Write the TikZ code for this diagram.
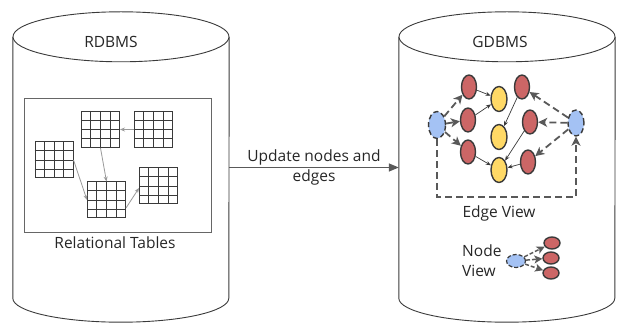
\documentclass[tikz,border=0pt]{standalone}
\usepackage{fontspec}
\setmainfont{Open Sans}
\usetikzlibrary{shapes.geometric,arrows.meta,calc}
\definecolor{edgegray}{HTML}{595959}
\definecolor{linegray}{HTML}{3A3A3A}
\definecolor{redfill}{HTML}{CC6666}
\definecolor{yellowfill}{HTML}{FFD966}
\definecolor{bluefill}{HTML}{A4C2F4}
\tikzset{
  cyl/.style={draw=linegray, line width=0.9pt},
  body/.style={inner sep=0pt, minimum width=216pt, minimum height=261pt},
  label/.style={font=\fontsize{15.5}{20}\selectfont, text=black!85, align=center, inner sep=1pt},
  tbl/.style={draw=linegray, line width=1pt, inner sep=0pt, minimum width=38pt, minimum height=36pt},
  tblarrow/.style={draw=black!40, line width=0.8pt, -{Stealth[length=5pt,width=4pt]}},
  gnode/.style={ellipse, draw=linegray, line width=1.4pt, inner sep=0pt},
  rednode/.style={gnode, fill=redfill, minimum width=15pt, minimum height=24pt},
  yellownode/.style={gnode, fill=yellowfill, minimum width=16pt, minimum height=25pt},
  bluenode/.style={gnode, fill=bluefill, dashed, dash pattern=on 5pt off 3pt, minimum width=17pt, minimum height=27pt},
  solidedge/.style={draw=linegray, line width=0.7pt, -{Stealth[length=5pt,width=4pt]}},
  dashededge/.style={draw=edgegray, line width=1.8pt, dash pattern=on 7pt off 4pt, -{Stealth[length=9pt,width=9pt,inset=2.5pt]}},
  smalldashed/.style={dashededge, line width=1.5pt, dash pattern=on 4pt off 2pt, -{Stealth[length=8pt,width=8pt,inset=2pt]}},
  mainarrow/.style={draw=edgegray, line width=1.4pt, -{Triangle[length=10pt,width=8pt]}}
}
\begin{document}
\begin{tikzpicture}[x=1pt,y=-1pt]
\useasboundingbox (0,0) rectangle (621,328);

% ---- RDBMS cylinder ----
\node[body] (rdb) at (121,167.5) {};
\draw[cyl] (rdb.north west) -- (rdb.south west)
  arc[start angle=180, end angle=360, x radius=108pt, y radius=24pt] -- (rdb.north east);
\draw[cyl, fill=white] (rdb.north) ellipse[x radius=108pt, y radius=25pt];
\node[label] (rdbtitle) at (111,42) {RDBMS};

% relational tables frame
\node[draw=black!60, line width=0.8pt, inner sep=0pt, minimum width=187pt, minimum height=134pt] (frame) at (117.5,165) {};
\node[label] (rtlabel) at (115,243) {Relational Tables};

\node[tbl] (t1) at (100.5,129.5) {};
\node[tbl] (t2) at (153.5,129.5) {};
\node[tbl] (t3) at (54,160) {};
\node[tbl] (t4) at (106.5,200) {};
\node[tbl] (t5) at (158.5,186) {};
\foreach \t in {t1,t2,t3,t4,t5}{
  \foreach \i in {1,2,3}{
    \draw[draw=linegray, line width=0.7pt]
      ($(\t.north west)!\i/4!(\t.north east)$) -- ($(\t.south west)!\i/4!(\t.south east)$);
    \draw[draw=linegray, line width=0.7pt]
      ($(\t.north west)!\i/4!(\t.south west)$) -- ($(\t.north east)!\i/4!(\t.south east)$);
  }
}
\draw[tblarrow] (t2.west) -- (t1.east);
\draw[tblarrow] (t1.south) -- (t4.north);
\draw[tblarrow] (t3.east) -- (t4.west);
\draw[tblarrow] ([yshift=-8pt]t4.east) -- ([yshift=-2pt]t5.west);

% ---- GDBMS cylinder ----
\node[body] (gdb) at (507,167.5) {};
\draw[cyl] (gdb.north west) -- (gdb.south west)
  arc[start angle=180, end angle=360, x radius=108pt, y radius=24pt] -- (gdb.north east);
\draw[cyl, fill=white] (gdb.north) ellipse[x radius=108pt, y radius=25pt];
\node[label] (gdbtitle) at (500,42) {GDBMS};

% ---- update arrow ----
\draw[mainarrow] (rdb.east) -- (gdb.west)
  node[midway, label] (upd) {Update nodes and\\edges};

% ---- edge view graph ----
\node[bluenode] (bl) at (437,125) {};
\node[bluenode, minimum width=16pt, minimum height=26pt] (br) at (576,123) {};
\node[rednode] (r1) at (469,87) {};
\node[rednode] (r2) at (468,120) {};
\node[rednode] (r3) at (468,152) {};
\node[yellownode] (y1) at (499,99) {};
\node[yellownode] (y2) at (499,137) {};
\node[yellownode] (y3) at (499,170) {};
\node[rednode] (r4) at (522,87) {};
\node[rednode] (r5) at (530,122) {};
\node[rednode] (r6) at (528,162) {};

\draw[solidedge] (r1) -- (y1);
\draw[solidedge] (r2) -- (y1);
\draw[solidedge] (r3) -- (y3);
\draw[solidedge] (r4) -- (y2);
\draw[solidedge] (r5) -- (y3);
\draw[solidedge] (r6) -- (y3);

\draw[dashededge] (bl) -- (r1);
\draw[dashededge] (bl) -- (r2);
\draw[dashededge] (bl) -- (r3);
\draw[dashededge] (br) -- (r4);
\draw[dashededge] (br) -- (r5);
\draw[dashededge] (br) -- (r6);

\coordinate (loopl) at (437,197);
\coordinate (loopr) at (576,197);
\draw[dashededge] (bl.south) -- (loopl) -- (loopr) -- (br.south);

\node[label] (evlabel) at (499,213) {Edge View};

% ---- node view ----
\node[label, align=left, anchor=west] (nvlabel) at (461,261) {Node\\View};
\node[bluenode, minimum width=19pt, minimum height=13pt, line width=1.2pt, dash pattern=on 4pt off 2pt] (bn) at (516,261) {};
\node[rednode, minimum width=16pt, minimum height=12pt] (n1) at (552,243) {};
\node[rednode, minimum width=16pt, minimum height=12pt] (n2) at (551,258) {};
\node[rednode, minimum width=16pt, minimum height=12pt] (n3) at (551,273) {};
\draw[smalldashed] (bn) -- (n1);
\draw[smalldashed] (bn) -- (n2);
\draw[smalldashed] (bn) -- (n3);
\end{tikzpicture}
\end{document}
